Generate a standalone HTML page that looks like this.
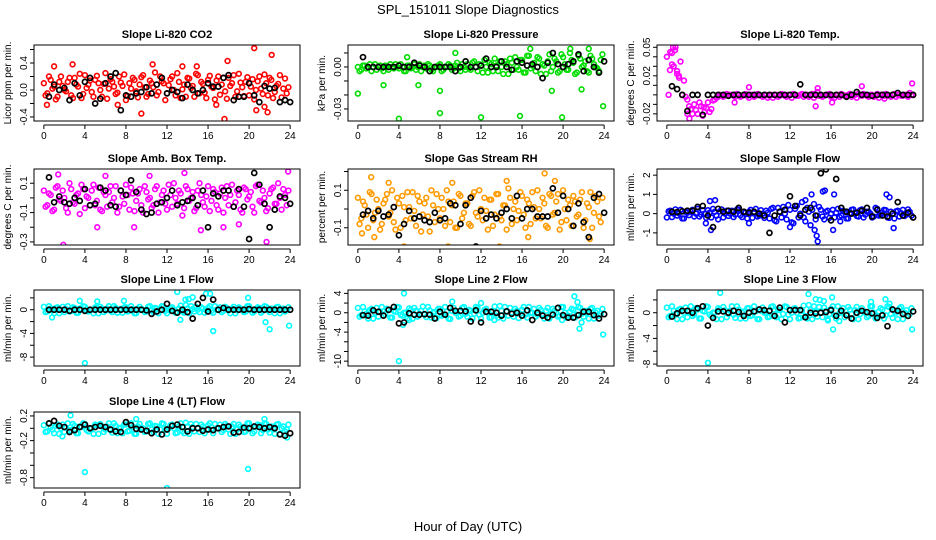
<!DOCTYPE html>
<html><head><meta charset="utf-8">
<style>
html,body{margin:0;padding:0;background:#fff;}
svg{display:block;font-family:"Liberation Sans",sans-serif;}
</style></head>
<body>
<svg id="chart" width="936" height="540" viewBox="0 0 936 540">
<text x="468" y="14" text-anchor="middle" font-size="13">SPL_151011  Slope Diagnostics</text>
<text x="468" y="531" text-anchor="middle" font-size="13">Hour of Day (UTC)</text>
</svg>
<script>
const xTicks = [0,4,8,12,16,20,24];
const co2Colored = [0.1,-0.05,0.15,0.05,-0.1,0.2,0.0,0.12,-0.08,0.18,0.05,-0.12,0.22,0.08,-0.03,0.15,0.1,-0.1,0.25,0.02,0.12,-0.06,0.2,0.06,-0.15,0.1,0.18,-0.02,0.08,0.22,-0.1,0.14,0.04,-0.08,0.2,0.1,-0.05,0.16,0.0,0.25,-0.12,0.08,0.18,0.03,-0.1,0.22,0.12,-0.04,0.15,0.05,-0.14,0.2,0.08,-0.02,0.18,0.1,-0.1,0.24,0.04,0.12,-0.08,0.16,0.0,0.2,-0.06,0.1,0.18,-0.12,0.06,0.22,0.02,-0.05];
const co2ColoredB = [-0.08,0.2,0.02,-0.14,0.12,0.06,-0.02,0.18,-0.12,0.08,0.24,-0.06,0.03,0.14,-0.1,0.21,0.0,0.09,-0.13,0.16,0.05,-0.04,0.11,0.23,-0.09,0.02,0.15,-0.11,0.19,0.04,-0.06,0.1,0.26,-0.03,0.13,-0.15,0.07,0.2,-0.08,0.12,0.01,-0.1,0.17,0.06,0.24,-0.05,0.09,-0.12,0.21,0.03,0.14,-0.07,0.18,-0.13,0.06,0.22,-0.02,0.11,-0.09,0.19,0.05,-0.14,0.13,0.02,0.23,-0.08,0.15,-0.03,0.09,-0.11,0.17,0.04];
const co2Black = [-0.1,0.08,0.0,0.03,-0.15,0.1,-0.08,0.12,0.18,-0.2,-0.13,0.1,0.2,0.25,-0.3,-0.08,-0.1,-0.05,-0.03,0.04,-0.05,0.08,0.18,-0.05,0.0,-0.03,-0.12,0.08,0.0,-0.05,0.0,0.1,0.05,0.05,0.18,0.22,-0.15,-0.1,-0.1,0.1,-0.08,-0.18,0.06,0.02,0.03,-0.18,-0.15,-0.18];
const co2Outliers = [[17.6,-0.43],[20.5,0.62],[22.2,0.52],[9.5,-0.35],[21.8,-0.33],[20.7,-0.3],[0.3,-0.22],[1,0.35],[2.8,0.38],[13.5,0.35],[14.9,0.35],[17.9,0.43],[10.6,0.38],[21.5,-0.25],[7.2,-0.22],[16.8,-0.22]];
const presColored = [0.0,-0.002,0.001,0.0,-0.003,0.002,0.0,-0.001,0.001,-0.002,0.0,0.002,-0.001,0.0,-0.003,0.001,0.0,-0.002,0.002,0.0,-0.001,0.001,-0.003,0.0,0.002,-0.002,0.0,0.001,-0.001,0.003,-0.003,0.0,0.002,-0.002,0.004,-0.003,0.001,0.005,-0.004,0.002,0.006,-0.003,0.0,0.004,-0.005,0.003,0.007,-0.002,0.005,-0.004,0.008,0.001,-0.003,0.006,0.002,-0.005,0.009,0.0,0.004,-0.003,0.007,-0.002,0.010,0.003,-0.004,0.006,0.001,-0.003,0.008,0.002,-0.001,0.005];
const presColoredB = [-0.003,0.001,-0.001,0.002,0.0,-0.002,0.001,-0.003,0.0,0.002,-0.001,0.0,0.002,-0.003,0.001,-0.001,0.002,0.0,-0.003,0.001,0.002,-0.002,0.0,0.001,-0.003,0.0,0.002,-0.002,0.001,-0.001,0.002,-0.002,-0.001,0.003,0.0,0.002,-0.004,0.0,0.003,-0.003,0.001,0.004,-0.005,0.002,0.006,-0.002,0.0,0.005,-0.004,0.008,-0.001,0.003,0.007,-0.005,0.001,0.004,-0.003,0.006,-0.004,0.009,0.002,-0.002,0.005,-0.005,0.008,0.0,0.004,-0.004,0.006,0.0,-0.003,0.009];
const presBlack = [0.007,0.0,0.0,0.0,0.0,0.0,0.0,0.001,0.0,0.0,0.003,0.001,0.0,-0.003,0.0,0.0,0.0,0.0,-0.003,0.0,0.004,0.0,0.0,0.001,0.006,0.0,0.0,0.004,0.0,-0.002,0.004,0.003,0.001,0.002,0.0,-0.008,0.003,0.010,0.002,0.0,0.002,0.004,0.009,-0.003,0.005,0.0,-0.004,0.004];
const presOutliers = [[0,-0.019],[4,-0.037],[8,-0.033],[8,-0.017],[12,-0.036],[15.8,-0.035],[19.9,-0.036],[23.9,-0.028],[18.9,-0.017],[21.8,-0.016],[16.8,0.013],[20.7,0.013],[22.5,0.013],[4.8,0.007],[9.5,0.010],[2.5,-0.013],[5.9,-0.013]];
const tempColored = [0.04,0.045,0.03,0.025,0.035,0.015,-0.005,-0.015,-0.01,-0.02,-0.012,-0.018,-0.008,-0.015,-0.005,-0.002,-0.001,0.0,-0.001,0.0,-0.002,0.0,-0.001,0.001,-0.003,0.0,-0.001,0.0,-0.002,0.0,-0.001,-0.003,0.0,-0.001,0.0,-0.002,0.0,0.001,-0.001,0.0,-0.002,0.0,-0.001,-0.003,0.003,0.0,-0.001,0.0,-0.002,-0.003,0.0,0.001,-0.001,0.0,-0.002,0.0,0.001,-0.001,0.0,-0.002,0.0,-0.001,-0.003,0.0,0.001,-0.001,0.0,-0.002,0.0,-0.001,0.0,0.002];
const tempColoredB = [0.0,0.032,0.05,0.02,0.0,-0.002,-0.012,-0.02,-0.016,-0.008,-0.022,-0.014,-0.018,-0.006,-0.003,0.0,-0.002,0.001,0.0,-0.001,0.001,-0.002,0.0,-0.001,0.0,-0.002,0.001,-0.001,0.0,-0.003,0.0,0.0,-0.002,0.001,-0.001,0.0,-0.003,0.0,-0.001,0.001,0.0,-0.002,0.001,0.0,-0.001,-0.002,0.0,0.001,-0.001,0.0,-0.002,0.0,-0.001,0.001,0.0,-0.003,0.0,0.001,-0.001,0.0,-0.002,0.001,0.0,-0.001,0.0,-0.002,0.001,0.0,-0.001,0.0,-0.002,0.0];
const tempBlack = [0.009,0.006,-0.0,-0.017,-0.0,0.0,-0.021,0.0,0.0,0.0,0.0,-0.001,0.0,0.0,0.0,0.0,0.0,0.0,0.0,0.0,0.0,0.0,0.0,0.0,0.0,0.011,0.0,0.0,0.0,0.0,0.0,0.0,0.0,0.0,-0.002,0.0,0.003,0.0,0.0,-0.001,0.0,0.0,0.0,0.0,0.002,0.0,0.0,0.0];
const tempOutliers = [[0.3,0.026],[0.6,0.05],[0.8,0.047],[0.5,0.044],[1.2,0.018],[1.0,0.022],[2.2,-0.025],[2.0,-0.02],[3.6,-0.013],[8,0.008],[14.5,-0.012],[14.7,0.007],[16.1,-0.008],[19,0.009],[23.9,0.012],[6.6,-0.008],[21.2,-0.004]];
const ambColored = [0.05,-0.05,0.02,-0.08,0.08,-0.02,0.0,-0.1,0.06,-0.04,0.03,0.09,-0.07,0.0,0.05,-0.05,0.07,-0.09,0.02,0.04,-0.03,0.08,-0.06,0.01,0.09,-0.08,0.03,-0.02,0.06,-0.1,0.04,0.0,-0.05,0.08,-0.03,0.05,-0.08,0.02,0.1,-0.04,0.03,-0.07,0.06,0.0,-0.09,0.05,0.02,-0.06,0.08,-0.02,0.04,-0.08,0.07,0.0,-0.05,0.09,-0.03,0.02,-0.1,0.06,0.01,-0.06,0.08,-0.02,0.05,-0.09,0.03,0.07,-0.04,0.0,0.06,-0.05];
const ambColoredB = [-0.06,0.03,-0.09,0.07,-0.01,0.05,-0.07,0.1,-0.03,0.02,-0.11,0.06,0.01,-0.05,0.09,-0.02,-0.08,0.04,-0.06,0.08,0.0,-0.1,0.05,-0.04,0.02,0.07,-0.09,0.03,-0.05,0.08,-0.01,-0.07,0.06,-0.1,0.02,-0.04,0.09,-0.06,0.0,0.05,-0.12,0.08,-0.02,0.04,-0.07,0.1,-0.03,0.01,-0.09,0.06,-0.05,0.03,-0.1,0.08,0.02,-0.06,0.05,-0.08,0.07,-0.01,0.04,-0.1,0.09,-0.03,0.0,-0.07,0.06,-0.04,0.1,-0.08,0.02,0.05];
const ambBlack = [0.14,-0.03,0.01,-0.03,-0.04,0.0,-0.02,0.06,-0.05,-0.04,0.07,0.05,-0.05,-0.06,0.05,0.02,0.12,0.04,-0.08,-0.11,-0.1,-0.04,-0.03,0.0,0.05,-0.05,-0.03,-0.02,0.0,-0.05,0.05,-0.2,0.03,0.01,0.05,0.05,-0.06,0.06,-0.06,-0.28,0.17,0.09,-0.04,-0.2,-0.08,0.01,0.0,-0.04];
const ambOutliers = [[1.9,-0.32],[1.4,0.16],[5.2,-0.2],[8.8,-0.2],[15.3,-0.22],[17.5,-0.2],[21.7,-0.3],[23.8,0.18],[6,0.15],[10.3,0.15],[19,-0.18],[13.7,0.17]];
const rhColored = [0.06,-0.05,0.02,-0.1,0.08,-0.02,0.0,-0.08,0.05,-0.04,0.1,-0.11,0.03,0.07,-0.06,0.01,0.09,-0.09,0.04,-0.03,0.06,-0.12,0.02,0.08,-0.05,0.0,0.1,-0.07,0.04,-0.1,0.07,-0.02,0.03,-0.09,0.09,-0.04,0.0,0.06,-0.11,0.05,-0.03,0.08,-0.06,0.02,0.11,-0.08,0.04,-0.01,0.07,-0.1,0.03,0.09,-0.05,0.0,0.06,-0.09,0.08,-0.03,0.04,-0.11,0.1,-0.06,0.02,0.07,-0.04,0.05,-0.1,0.03,0.09,-0.02,0.04,-0.07];
const rhColoredB = [-0.08,0.04,-0.03,0.09,-0.06,0.05,-0.11,0.03,0.08,-0.02,-0.07,0.06,-0.1,0.01,0.09,-0.05,-0.01,0.07,-0.12,0.03,-0.04,0.1,-0.07,0.0,0.06,-0.09,0.04,0.02,-0.1,0.08,-0.05,0.03,-0.08,0.07,-0.02,0.1,-0.06,-0.01,0.05,-0.09,0.08,-0.04,0.02,-0.11,0.06,0.0,-0.06,0.09,-0.03,0.05,-0.08,0.01,0.1,-0.05,0.03,-0.1,0.07,-0.02,0.08,-0.07,0.0,0.05,-0.09,0.04,-0.03,0.09,-0.06,0.01,-0.1,0.07,-0.04,0.06];
const rhBlack = [-0.03,-0.01,-0.05,-0.01,-0.04,-0.03,0.01,-0.14,-0.08,-0.01,-0.05,-0.04,-0.06,-0.07,-0.02,-0.06,-0.05,0.03,0.02,-0.08,0.02,0.06,-0.2,-0.01,-0.05,-0.03,-0.05,-0.02,0.0,-0.05,0.07,-0.05,0.0,0.0,-0.04,-0.04,-0.04,0.11,-0.02,0.07,0.0,-0.09,0.03,-0.07,-0.15,0.06,0.08,-0.02];
const rhOutliers = [[0.4,-0.13],[1.3,0.17],[1.6,-0.15],[3,0.14],[4.5,-0.2],[8.8,-0.2],[9.2,0.14],[13.8,-0.2],[18.2,0.19],[16.6,-0.15],[22.6,-0.16],[14.5,0.15],[19.2,0.15]];
const flowColored = [-0.2,0.15,0.0,-0.1,0.2,-0.25,0.05,0.1,-0.15,0.25,-0.05,0.0,0.18,-0.2,0.1,-0.3,0.22,0.0,-0.12,0.15,-0.05,0.2,-0.18,0.05,0.1,-0.22,0.25,-0.1,0.0,0.15,-0.25,0.3,-0.4,0.1,0.35,-0.3,0.2,-0.5,0.4,0.0,-0.2,0.3,-0.6,0.5,-0.1,0.2,-0.3,0.15,0.0,-0.2,0.25,-0.1,0.1,-0.25,0.2,0.0,-0.15,0.22,-0.05,0.1,-0.2,0.3,-0.1,0.05,0.18,-0.22,0.0,0.12,-0.15,0.2,-0.05,0.1];
const flowColoredB = [0.12,-0.18,0.22,0.02,-0.25,0.1,-0.08,0.2,0.0,-0.15,0.18,-0.22,0.05,0.25,-0.1,0.12,-0.2,0.15,0.0,-0.18,0.22,-0.08,0.1,-0.25,0.2,0.02,-0.15,0.18,-0.22,0.05,0.25,-0.35,0.3,-0.2,0.0,0.45,-0.45,0.25,-0.2,0.6,-0.4,0.1,0.2,-0.3,0.35,-0.15,0.1,-0.22,0.2,0.05,-0.18,0.15,-0.25,0.02,0.22,-0.12,0.18,-0.2,0.1,0.0,-0.15,0.25,-0.08,0.2,-0.2,0.1,-0.25,0.15,0.02,-0.12,0.22,-0.1];
const flowBlack = [0.1,0.08,0.12,0.15,0.15,0.35,0.4,-0.1,-0.7,0.25,0.1,0.15,0.1,0.3,0.1,0.05,0.1,0.0,-0.1,-1.0,-0.1,0.1,0.2,0.9,0.4,-0.1,0.2,0.3,-0.1,2.1,2.3,-0.35,1.8,0.3,0.1,0.0,0.05,0.15,0.3,-0.15,0.2,-0.1,-0.15,0.0,0.6,-0.1,0.05,-0.2];
const flowOutliers = [[3.8,-0.5],[4.3,-0.85],[4.2,0.65],[4.7,0.7],[8,-0.5],[12,-0.7],[13.5,0.7],[14.1,1.0],[14.6,-1.15],[14.7,-1.45],[15.4,1.2],[16.2,-0.85],[16.3,1.0],[15.2,1.15],[21.4,1.0],[21.7,0.85],[22.1,-0.75],[14.4,-0.85],[16.9,-0.4]];
const l1Colored = [0.5,-0.3,0.2,-0.6,0.4,0.0,-0.4,0.6,-0.2,0.3,-0.5,0.1,0.5,-0.3,0.0,0.4,-0.6,0.2,-0.1,0.6,-0.4,0.3,0.0,-0.5,0.4,-0.2,0.1,-0.6,0.5,0.0,-0.3,0.6,-0.4,0.2,-0.1,0.5,-0.6,0.3,0.0,-0.4,0.7,-0.5,0.2,0.6,-0.3,0.0,0.4,-0.5,0.3,-0.2,0.6,0.0,-0.4,0.5,-0.1,0.2,-0.6,0.4,0.0,-0.3,0.6,-0.5,0.1,0.3,-0.2,0.5,-0.4,0.0,0.4,-0.6,0.2,-0.1];
const l1ColoredB = [-0.4,0.6,-0.1,0.3,-0.6,0.5,0.1,-0.3,0.4,-0.5,0.2,0.6,-0.2,0.0,-0.6,0.3,0.5,-0.4,0.2,-0.2,0.6,-0.5,0.1,0.4,-0.3,0.6,-0.6,0.2,0.0,-0.4,0.5,-0.1,0.3,-0.6,0.6,-0.2,0.0,0.4,-0.5,0.2,-0.3,0.8,-0.6,0.1,0.5,-0.4,0.2,-0.1,0.6,-0.5,0.0,0.4,-0.2,0.3,-0.6,0.5,-0.1,0.2,-0.4,0.6,0.0,-0.3,0.4,-0.5,0.6,-0.1,0.2,-0.6,0.5,0.0,-0.3,0.4];
const l1Black = [0.0,0.0,0.0,0.0,-0.2,0.0,0.0,-0.2,0.0,0.0,0.0,0.0,0.0,0.0,0.0,0.0,0.0,0.0,0.0,-0.1,-0.7,-0.3,0.0,1.0,-0.2,-0.5,0.0,-0.4,-1.5,1.0,2.0,-0.3,1.7,0.0,0.3,0.0,0.0,0.0,0.0,0.1,0.0,0.0,0.0,0.0,0.0,0.0,0.0,0.0];
const l1Outliers = [[4,-9],[0.8,-1.3],[3.5,1.5],[5.2,1.4],[7.8,1.5],[13,3],[13.3,-1.7],[14.1,1.8],[14.5,2.1],[15.8,2.7],[16.2,2.7],[16.5,-3.6],[19.9,2],[21.6,-2.1],[22,-3.3],[23.9,-2.7],[13.8,1.7]];
const l2Colored = [1.0,-0.5,0.3,-1.2,0.8,0.0,-0.8,1.2,-0.3,0.6,-1.0,0.2,1.1,-0.6,0.0,0.9,-1.2,0.4,-0.2,1.3,-0.9,0.5,0.0,-1.1,0.8,-0.4,0.2,-1.3,1.0,0.0,-0.6,1.2,-0.8,0.4,-0.2,1.0,-1.2,0.6,0.0,-0.9,1.3,-1.0,0.4,1.2,-0.6,0.0,0.8,-1.1,0.6,-0.4,1.2,0.0,-0.8,1.0,-0.2,0.4,-1.2,0.8,0.0,-0.6,1.2,-1.0,0.2,0.6,-0.4,1.0,-0.8,0.0,0.8,-1.2,0.4,-0.2];
const l2ColoredB = [-0.8,1.2,-0.2,0.6,-1.2,1.0,0.2,-0.6,0.8,-1.0,0.4,1.2,-0.4,0.0,-1.2,0.6,1.0,-0.8,0.4,-0.4,1.2,-1.0,0.2,0.8,-0.6,1.2,-1.2,0.4,0.0,-0.8,1.0,-0.2,0.6,-1.2,1.2,-0.4,0.0,0.8,-1.0,0.4,-0.6,1.4,-1.2,0.2,1.0,-0.8,0.4,-0.2,1.2,-1.0,0.0,0.8,-0.4,0.6,-1.2,1.0,-0.2,0.4,-0.8,1.2,0.0,-0.6,0.8,-1.0,1.2,-0.2,0.4,-1.2,1.0,0.0,-0.6,0.8];
const l2Black = [-0.5,-0.6,0.5,0.2,-0.6,0.6,1.2,-2.2,-2.0,-0.1,-0.4,-0.4,-0.3,-0.4,-1.2,0.2,-0.4,1.0,0.4,0.4,0.3,-1.8,0.5,-2.0,0.2,0.2,0.0,-0.6,0.3,-0.2,0.0,-0.6,0.5,-1.5,0.0,-0.6,-1.0,-0.4,1.0,-0.5,-1.0,-1.0,-0.5,0.2,0.2,-0.5,-1.2,-0.3];
const l2Outliers = [[4,-10],[4.5,4],[4.4,-2.5],[9.2,2.3],[12,2.0],[21.1,3.4],[21.4,2.2],[21.6,-3.3],[21.8,-2],[23.9,-4.5],[5,-1.5],[13.3,-1.5],[19.9,-1.5]];
const l3Colored = [0.8,-0.5,0.3,-1.0,0.6,0.0,-0.7,1.0,-0.3,0.5,-0.9,0.2,0.9,-0.5,0.0,0.7,-1.0,0.4,-0.2,1.0,-0.8,0.5,0.0,-0.9,0.7,-0.4,0.2,-1.0,0.8,0.0,-0.6,1.0,-0.7,0.4,-0.2,0.9,-1.0,0.6,0.0,-0.8,1.1,-0.9,0.4,1.0,-0.6,0.0,0.8,-1.0,0.6,-0.4,1.0,0.0,-0.7,0.9,-0.2,0.4,-1.0,0.7,0.0,-0.5,1.0,-0.9,0.2,0.5,-0.4,0.9,-0.8,0.0,0.7,-1.0,0.4,-0.2];
const l3ColoredB = [-0.7,1.0,-0.2,0.5,-1.0,0.8,0.2,-0.5,0.7,-0.9,0.3,1.0,-0.3,0.0,-1.0,0.5,0.9,-0.7,0.3,-0.3,1.0,-0.9,0.2,0.7,-0.5,1.0,-1.0,0.3,0.0,-0.7,0.9,-0.2,0.5,-1.0,1.0,-0.3,0.0,0.7,-0.9,0.3,-0.5,1.2,-1.0,0.2,0.9,-0.7,0.3,-0.2,1.0,-0.9,0.0,0.7,-0.3,0.5,-1.0,0.9,-0.2,0.3,-0.7,1.0,0.0,-0.5,0.7,-0.9,1.0,-0.2,0.3,-1.0,0.9,0.0,-0.5,0.7];
const l3Black = [-0.6,-0.1,0.3,0.3,0.0,0.7,1.0,-2.0,-0.8,0.2,0.2,0.0,0.3,0.1,-0.5,0.0,0.2,0.5,0.4,0.3,-0.5,0.8,-1.5,0.4,0.4,0.4,-0.7,0.0,-0.1,0.0,0.1,0.4,-0.5,0.3,-0.4,-0.9,0.0,0.3,0.1,-0.1,-0.8,-0.4,-2.1,0.5,0.3,-0.2,-0.5,0.2];
const l3Outliers = [[4,-7.8],[5.2,3.1],[13.8,2.9],[14.5,2.1],[14.9,2.0],[15.3,1.8],[16.1,2.4],[16.2,-2.6],[19.9,1.7],[21.3,2.1],[21.7,1.4],[23.9,-2.6],[15.7,-1.2],[16.8,-1.3]];
const l4Colored = [0.05,-0.05,0.02,-0.08,0.06,0.0,-0.06,0.08,-0.03,0.04,-0.08,0.02,0.07,-0.05,0.0,0.06,-0.09,0.03,-0.02,0.08,-0.07,0.04,0.0,-0.08,0.06,-0.04,0.02,-0.09,0.07,0.0,-0.05,0.08,-0.06,0.03,-0.02,0.07,-0.09,0.05,0.0,-0.07,0.08,-0.08,0.03,0.07,-0.05,0.0,0.06,-0.08,0.05,-0.03,0.07,0.0,-0.06,0.07,-0.02,0.03,-0.09,0.06,0.0,-0.05,0.08,-0.08,0.02,0.05,-0.03,0.07,-0.07,0.0,0.06,-0.09,0.03,-0.02];
const l4ColoredB = [-0.06,0.08,-0.02,0.04,-0.09,0.06,0.01,-0.04,0.07,-0.08,0.03,0.08,-0.03,0.0,-0.09,0.05,0.07,-0.06,0.03,-0.03,0.08,-0.08,0.01,0.06,-0.05,0.08,-0.09,0.03,0.0,-0.06,0.07,-0.02,0.04,-0.09,0.08,-0.03,0.0,0.06,-0.08,0.03,-0.05,0.09,-0.09,0.02,0.07,-0.06,0.03,-0.02,0.08,-0.08,0.0,0.06,-0.03,0.04,-0.09,0.07,-0.02,0.03,-0.06,0.08,0.0,-0.05,0.06,-0.08,0.08,-0.02,0.03,-0.09,0.07,0.0,-0.05,0.06];
const l4Black = [0.08,0.12,0.04,0.02,-0.06,-0.03,0.02,0.06,0.0,0.02,0.04,0.02,-0.02,-0.05,-0.06,0.1,0.05,-0.01,-0.02,-0.04,-0.08,-0.02,-0.1,-0.02,0.04,0.06,0.02,-0.05,0.0,0.0,-0.04,-0.02,-0.03,0.0,0.02,0.03,-0.07,-0.06,0.01,0.0,0.03,0.02,0.0,0.02,0.0,-0.1,-0.12,-0.08];
const l4Outliers = [[4,-0.71],[12,-0.97],[19.9,-0.66],[2.6,0.21],[1.8,-0.13],[9,0.15],[21.5,0.15],[23.7,-0.15]];

const panels = [
 {t:"Slope Li-820 CO2",yl:"Licor ppm per min.",c:"#ff0000",x:34,y:45,min:-0.46,max:0.667,ticks:[-0.4,-0.2,0,0.2,0.4,0.6],labs:{"-0.4":"-0.4","0":"0.0","0.4":"0.4"},col:co2Colored,colB:co2ColoredB,blk:co2Black,out:co2Outliers},
 {t:"Slope Li-820 Pressure",yl:"kPa per min.",c:"#00dd00",x:348,y:45,min:-0.0386,max:0.0157,ticks:[-0.03,-0.02,-0.01,0,0.01],labs:{"-0.03":"-0.03","0":"0.00"},col:presColored,colB:presColoredB,blk:presBlack,out:presOutliers},
 {t:"Slope Li-820 Temp.",yl:"degrees C per min.",c:"#ff00ff",x:657,y:45,min:-0.0275,max:0.0524,ticks:[-0.02,-0.01,0,0.01,0.02,0.03,0.04,0.05],labs:{"-0.02":"-0.02","0.02":"0.02","0.05":"0.05"},col:tempColored,colB:tempColoredB,blk:tempBlack,out:tempOutliers},
 {t:"Slope Amb. Box Temp.",yl:"degrees C per min.",c:"#ff00ff",x:34,y:169,min:-0.321,max:0.197,ticks:[-0.3,-0.2,-0.1,0,0.1],labs:{"-0.3":"-0.3","-0.1":"-0.1","0.1":"0.1"},col:ambColored,colB:ambColoredB,blk:ambBlack,out:ambOutliers},
 {t:"Slope Gas Stream RH",yl:"percent per min.",c:"#ff9a00",x:348,y:169,min:-0.192,max:0.2135,ticks:[-0.1,0,0.1,0.2],labs:{"-0.1":"-0.1","0.1":"0.1"},col:rhColored,colB:rhColoredB,blk:rhBlack,out:rhOutliers},
 {t:"Slope Sample Flow",yl:"ml/min per min.",c:"#0000ff",x:657,y:169,min:-1.63,max:2.32,ticks:[-1,0,1,2],labs:{"-1":"-1","0":"0","1":"1","2":"2"},col:flowColored,colB:flowColoredB,blk:flowBlack,out:flowOutliers},
 {t:"Slope Line 1 Flow",yl:"ml/min per min.",c:"#00ffff",x:34,y:290,min:-9.5,max:3.33,ticks:[-8,-6,-4,-2,0,2],labs:{"-8":"-8","-4":"-4","0":"0"},col:l1Colored,colB:l1ColoredB,blk:l1Black,out:l1Outliers},
 {t:"Slope Line 2 Flow",yl:"ml/min per min.",c:"#00ffff",x:348,y:290,min:-11.0,max:4.7,ticks:[-10,-8,-6,-4,-2,0,2,4],labs:{"-10":"-10","-4":"-4","0":"0","4":"4"},col:l2Colored,colB:l2ColoredB,blk:l2Black,out:l2Outliers},
 {t:"Slope Line 3 Flow",yl:"ml/min per min.",c:"#00ffff",x:657,y:290,min:-8.3,max:3.54,ticks:[-8,-6,-4,-2,0,2],labs:{"-8":"-8","-4":"-4","0":"0"},col:l3Colored,colB:l3ColoredB,blk:l3Black,out:l3Outliers},
 {t:"Slope Line 4 (LT) Flow",yl:"ml/min per min.",c:"#00ffff",x:34,y:412,min:-0.968,max:0.264,ticks:[-0.8,-0.6,-0.4,-0.2,0,0.2],labs:{"-0.8":"-0.8","-0.2":"-0.2","0.2":"0.2"},col:l4Colored,colB:l4ColoredB,blk:l4Black,out:l4Outliers}
];
const svg = document.getElementById('chart');
const NS = 'http://www.w3.org/2000/svg';
function mk(tag, attrs, parent){const e=document.createElementNS(NS,tag);for(const k in attrs)e.setAttribute(k,attrs[k]);parent.appendChild(e);return e;}
const W=266,H=76;
panels.forEach((p,i)=>{
  const g=mk('g',{},svg);
  
  
  const xs=h=>p.x+(h+0.96)/25.92*W;
  const ys=v=>p.y+(p.max-v)/(p.max-p.min)*H;
  const t=mk('text',{x:p.x+W/2,y:p.y-7,'text-anchor':'middle','font-size':11,'font-weight':'bold'},g);
  t.textContent=p.t;
  
  
  const yl=mk('text',{x:0,y:0,'text-anchor':'middle','font-size':10,transform:`translate(${p.x-23},${p.y+H/2}) rotate(-90)`},g);
  yl.textContent=p.yl;
  
  
  const y0=ys(p.ticks[p.ticks.length-1]), y1=ys(p.ticks[0]);
  mk('line',{x1:p.x,x2:p.x,y1:y0,y2:y1,stroke:'#000','stroke-width':1},g);
  p.ticks.forEach(v=>{
    const yy=ys(v);
    mk('line',{x1:p.x-4,x2:p.x,y1:yy,y2:yy,stroke:'#000'},g);
    const key=String(v);
    if(p.labs[key]!==undefined){
      const tl=mk('text',{x:0,y:0,'text-anchor':'middle','font-size':10,transform:`translate(${p.x-7},${yy}) rotate(-90)`},g);
      tl.textContent=p.labs[key];
      
      
    }
  });
  const xb=p.y+H+4;
  mk('line',{x1:xs(0),x2:xs(24),y1:xb,y2:xb,stroke:'#000'},g);
  xTicks.forEach(h=>{
    mk('line',{x1:xs(h),x2:xs(h),y1:xb,y2:xb+4,stroke:'#000'},g);
    const tl=mk('text',{x:xs(h),y:xb+14,'text-anchor':'middle','font-size':10},g);
    tl.textContent=h;
    
    
  });
  const cid='clip'+i;
  const cp=mk('clipPath',{id:cid},g);
  mk('rect',{x:p.x,y:p.y,width:W,height:H},cp);
  const pts=mk('g',{'clip-path':`url(#${cid})`},g);
  const n=p.col.length;
  p.col.forEach((v,k)=>{
    const c=mk('circle',{cx:xs(k*24/n),cy:ys(v),r:2.4,fill:'none',stroke:p.c,'stroke-width':1.6},pts);
    
    
  });
  const nb=p.colB.length;
  p.colB.forEach((v,k)=>{
    const c=mk('circle',{cx:xs((k+0.5)*24/nb),cy:ys(v),r:2.4,fill:'none',stroke:p.c,'stroke-width':1.6},pts);
    
    
  });
  p.out.forEach(o=>{
    const c=mk('circle',{cx:xs(o[0]),cy:ys(o[1]),r:2.4,fill:'none',stroke:p.c,'stroke-width':1.6},pts);
    
    
  });
  p.blk.forEach((v,k)=>{
    const c=mk('circle',{cx:xs(0.5+k*0.5),cy:ys(v),r:2.5,fill:'none',stroke:'#000','stroke-width':1.7},pts);
    
    
  });
  mk('rect',{x:p.x,y:p.y,width:W,height:H,fill:'none',stroke:'#000','stroke-width':1},g);
});
</script>
</body></html>
